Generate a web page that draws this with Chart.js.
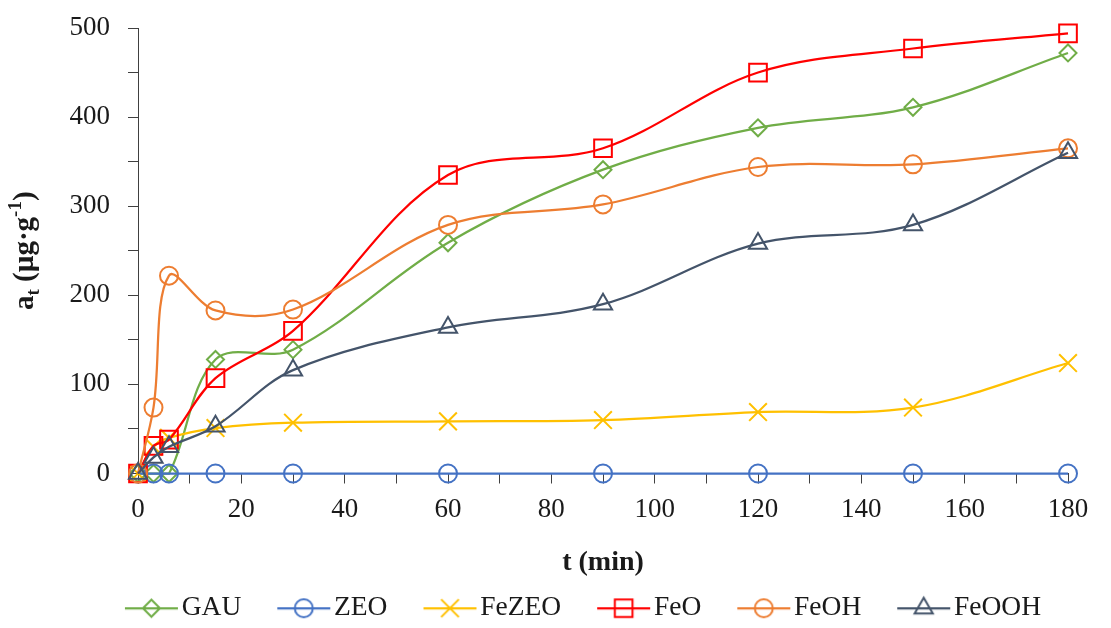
<!DOCTYPE html>
<html>
<head>
<meta charset="utf-8">
<title>Adsorption kinetics</title>
<script src="https://cdn.jsdelivr.net/npm/chart.js@4.4.0/dist/chart.umd.min.js"></script>
<style>
  html, body { margin: 0; padding: 0; background: #ffffff; }
  #wrap { width: 1111px; height: 628px; position: relative; }
</style>
</head>
<body>
<div id="wrap"><canvas id="kinetics-chart"></canvas></div>
<script>
// contact time (min)
const times = [0, 3, 6, 15, 30, 60, 90, 120, 150, 180];

// a_t (µg/g) for each sorbent
const gau   = [0, 0, 0, 128, 139, 259, 341, 388, 411, 472];
const zeo   = [0, 0, 0, 0, 0, 0, 0, 0, 0, 0];
const fezeo = [0, 30, 40, 51, 57, 58.5, 60, 69, 74, 124];
const feo   = [0, 31, 38, 107, 160, 335, 365, 450, 477, 494];
const feoh  = [0, 74, 222, 183, 184, 279, 302, 344, 347, 365];
const feooh = [0, 18, 30, 53, 116, 164, 190, 258, 279, 360];

const seriesNames = ['GAU', 'ZEO', 'FeZEO', 'FeO', 'FeOH', 'FeOOH'];
const seriesValues = [gau, zeo, fezeo, feo, feoh, feooh];

// styling (Excel-like palette)
const seriesColors = ['#70AD47', '#4472C4', '#FFC000', '#FF0000', '#ED7D31', '#44546A'];
const markerStyles = ['rectRot', 'circle', 'crossRot', 'rect', 'circle', 'triangle'];
const markerRadius = [8.5, 9, 12.5, 12.5, 9, 10.5];

const textColor = '#1a1a1a';
const axisColor = '#404040';
const serif = '"Liberation Serif", "Times New Roman", serif';

// legend icon = short line with the marker in the middle
// (image is wider than the legend box so the gap to the text stays small)
const LEGEND_BOX = 75, ICON_W = LEGEND_BOX + 22, ICON_H = 30;
function makeLegendIcon(i) {
    const c = document.createElement('canvas');
    c.width = ICON_W;
    c.height = ICON_H;
    const g = c.getContext('2d');
    const x1 = ICON_W - 1, x0 = x1 - 53, cy = ICON_H / 2;
    g.strokeStyle = seriesColors[i];
    g.lineWidth = 2.25;
    g.beginPath();
    g.moveTo(x0, cy);
    g.lineTo(x1, cy);
    g.stroke();
    g.fillStyle = 'rgba(0,0,0,0)';
    g.lineWidth = 2;
    if (Chart.helpers && Chart.helpers.drawPoint) {
        Chart.helpers.drawPoint(g, { pointStyle: markerStyles[i], radius: markerRadius[i], borderWidth: 2, rotation: 0 }, (x0 + x1) / 2, cy);
    } else {
        g.beginPath();
        g.arc((x0 + x1) / 2, cy, 8, 0, Math.PI * 2);
        g.stroke();
    }
    return c;
}
const legendIcons = seriesNames.map((_, i) => makeLegendIcon(i));

// y axis title with subscript / superscript
const yTitlePlugin = {
    id: 'yTitle',
    afterDraw(chart) {
        const ctx = chart.ctx;
        const parts = [
            { t: 'a', size: 29, dy: 0 },
            { t: 't', size: 19, dy: 6 },
            { t: ' (\u00b5g\u00b7g', size: 29, dy: 0 },
            { t: '-1', size: 19, dy: -12 },
            { t: ')', size: 29, dy: 0 }
        ];
        ctx.save();
        let total = 0;
        parts.forEach(p => {
            ctx.font = 'bold ' + p.size + 'px ' + serif;
            p.w = ctx.measureText(p.t).width;
            total += p.w;
        });
        const area = chart.chartArea;
        ctx.translate(33, (area.top + area.bottom) / 2);
        ctx.rotate(-Math.PI / 2);
        ctx.fillStyle = textColor;
        ctx.textBaseline = 'alphabetic';
        ctx.textAlign = 'left';
        let x = -total / 2;
        parts.forEach(p => {
            ctx.font = 'bold ' + p.size + 'px ' + serif;
            ctx.fillText(p.t, x, p.dy);
            x += p.w;
        });
        ctx.restore();
    }
};

const datasets = seriesNames.map((name, i) => ({
    label: name,
    data: times.map((t, k) => ({ x: t, y: seriesValues[i][k] })),
    borderColor: seriesColors[i],
    backgroundColor: 'rgba(0,0,0,0)',
    borderWidth: 2.25,
    pointStyle: markerStyles[i],
    pointRadius: markerRadius[i],
    pointHoverRadius: markerRadius[i],
    pointBorderColor: seriesColors[i],
    pointBackgroundColor: 'rgba(0,0,0,0)',
    pointBorderWidth: 2,
    tension: 0.35,
    fill: false,
    clip: false,
    order: seriesNames.length - i   // later series drawn on top, like Excel
}));

new Chart(document.getElementById('kinetics-chart'), {
    type: 'line',
    data: { datasets: datasets },
    plugins: [yTitlePlugin],
    options: {
        responsive: true,
        maintainAspectRatio: false,
        animation: false,
        // legend box carries some empty space at its bottom, hence the negative padding
        layout: { padding: { left: 66, right: 43, top: 28, bottom: -4 } },
        plugins: {
            tooltip: { enabled: false },
            legend: {
                position: 'bottom',
                labels: {
                    usePointStyle: true,
                    pointStyleWidth: LEGEND_BOX,
                    padding: 4,
                    color: textColor,
                    font: { family: serif, size: 27.5, lineHeight: 1 },
                    generateLabels(chart) {
                        const items = Chart.defaults.plugins.legend.labels.generateLabels(chart);
                        items.forEach(it => { it.pointStyle = legendIcons[it.datasetIndex]; });
                        return items.sort((a, b) => a.datasetIndex - b.datasetIndex);
                    }
                }
            }
        },
        scales: {
            x: {
                type: 'linear',
                min: 0,
                max: 180,
                afterFit: scale => { scale.height = 117; },
                border: { display: true, color: axisColor, width: 1 },
                grid: { drawOnChartArea: false, drawTicks: true, tickLength: 10, color: axisColor },
                ticks: {
                    stepSize: 10,
                    autoSkip: false,
                    maxRotation: 0,
                    padding: 10,
                    color: textColor,
                    font: { family: serif, size: 27 },
                    callback: v => (v % 20 === 0 ? v : '')
                },
                title: {
                    display: true,
                    text: 't (min)',
                    color: textColor,
                    font: { family: serif, size: 28, weight: 'bold' },
                    padding: { top: 0, bottom: 11 }
                }
            },
            y: {
                min: 0,
                max: 500,
                afterFit: scale => { scale.width = 72; },
                border: { display: true, color: axisColor, width: 1 },
                grid: { drawOnChartArea: false, drawTicks: true, tickLength: 10, color: axisColor },
                ticks: {
                    stepSize: 50,
                    autoSkip: false,
                    padding: 18,
                    color: textColor,
                    font: { family: serif, size: 27, lineHeight: 0.6 },
                    callback: v => (v % 100 === 0 ? v : '')
                }
            }
        }
    }
});
</script>
</body>
</html>
